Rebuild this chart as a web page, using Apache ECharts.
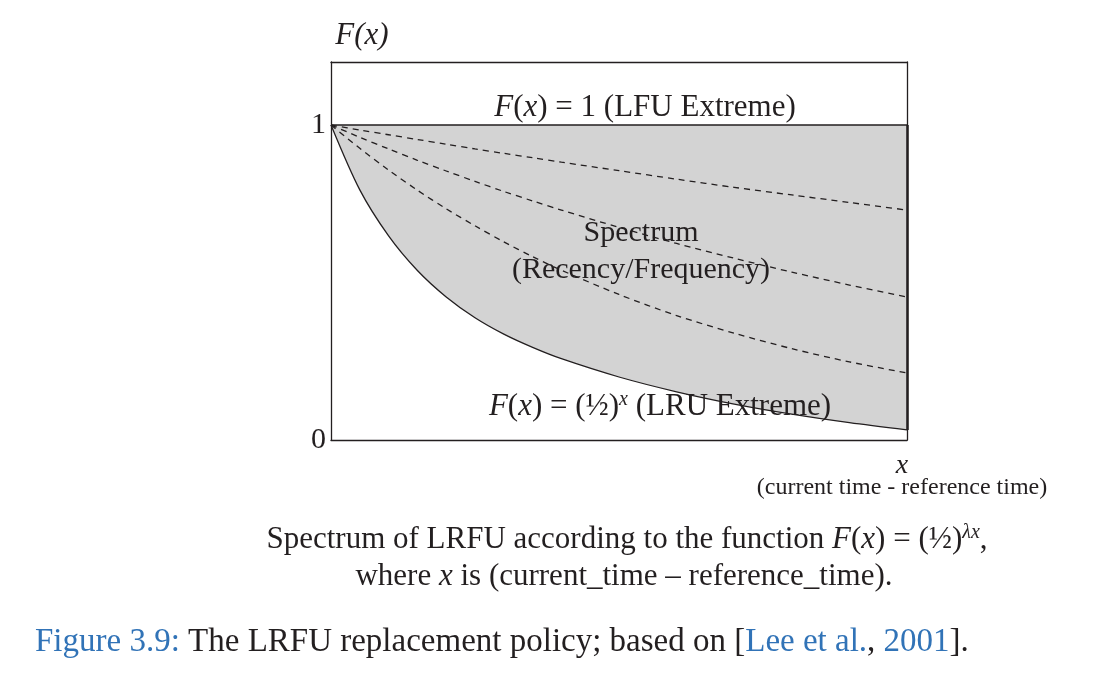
<!DOCTYPE html>
<html>
<head>
<meta charset="utf-8">
<script src="https://cdn.jsdelivr.net/npm/echarts@6/dist/echarts.min.js"></script>
<style>
  html, body { margin: 0; padding: 0; background: #fff; }
  #chart { width: 1103px; height: 682px; }
</style>
</head>
<body>
<div id="chart"></div>
<script>
// x = current time - reference time (arbitrary units)
var xPoints = [0, 0.25, 0.5, 0.75, 1, 1.25, 1.5, 1.75, 2, 2.5, 3, 3.5, 4, 4.5, 5];
// F(x) = 1 (LFU extreme)
var lfuValues = [1, 1, 1, 1, 1, 1, 1, 1, 1, 1, 1, 1, 1, 1, 1];
// F(x) = (1/2)^x (LRU extreme)
var lruValues = [1, 0.794, 0.648, 0.538, 0.454, 0.388, 0.336, 0.294, 0.258, 0.2, 0.153, 0.114, 0.082, 0.055, 0.032];
// dashed curves in between
var dash1Values = [1, 0.984, 0.969, 0.954, 0.939, 0.924, 0.91, 0.896, 0.882, 0.855, 0.828, 0.802, 0.778, 0.754, 0.73];
var dash2Values = [1, 0.961, 0.924, 0.888, 0.854, 0.821, 0.789, 0.759, 0.73, 0.675, 0.624, 0.577, 0.533, 0.492, 0.454];
var dash3Values = [1, 0.926, 0.857, 0.793, 0.734, 0.68, 0.629, 0.582, 0.539, 0.462, 0.395, 0.339, 0.29, 0.248, 0.213];
var yTickLabels = {0: '0', 1: '1'};

var ink = '#231f20';
var blue = '#3173b7';
var serif = '"Liberation Serif", "DejaVu Serif", serif';

function pairs(ys) {
    return xPoints.map(function (x, i) { return [x, ys[i]]; });
}

var myChart = echarts.init(document.getElementById('chart'));

function dashed(name, ys) {
    return {
        name: name,
        type: 'line',
        data: pairs(ys),
        smooth: 0.3,
        symbol: 'none',
        z: 5,
        lineStyle: { color: ink, width: 1.3, type: [6, 5] }
    };
}

// plain axis used only to draw a side of the box
function frameAxis(pos, extra) {
    var a = {
        type: 'value',
        position: pos,
        z: 10,
        axisLine: { show: true, onZero: false, lineStyle: { color: ink, width: 1.3 } },
        axisTick: { show: false },
        axisLabel: { show: false },
        splitLine: { show: false }
    };
    for (var k in extra) a[k] = extra[k];
    return a;
}

var rich = {
    i: { fontFamily: serif, fontStyle: 'italic', fontSize: 31, fill: ink },
    sup: { fontFamily: serif, fontStyle: 'italic', fontSize: 20, fill: ink, verticalAlign: 'top', padding: [0, 0, 14, 0] },
    b: { fontFamily: serif, fontSize: 33, fill: blue },
    k: { fontFamily: serif, fontSize: 33, fill: ink }
};

function label(x, y, text, size, extra) {
    var st = {
        text: text,
        x: x, y: y,
        align: 'center',
        verticalAlign: 'middle',
        fontFamily: serif,
        fontSize: size,
        fill: ink,
        rich: rich
    };
    if (extra) { for (var k in extra) st[k] = extra[k]; }
    return { type: 'text', z: 20, style: st };
}

var option = {
    backgroundColor: '#fff',
    animation: false,
    grid: { left: 331, top: 62, width: 576, height: 378 },
    xAxis: [
        frameAxis('bottom', { min: 0, max: 5 }),
        frameAxis('top', { min: 0, max: 5 })
    ],
    yAxis: [
        frameAxis('left', {
            min: 0, max: 1.2, interval: 1,
            axisLabel: {
                margin: 5,
                color: ink,
                fontFamily: serif,
                fontSize: 30,
                formatter: function (v) { return yTickLabels[v] || ''; }
            }
        }),
        frameAxis('right', { min: 0, max: 1.2 })
    ],
    series: [
        {
            name: 'LFU',
            type: 'line',
            data: pairs(lfuValues),
            symbol: 'none',
            z: 1,
            lineStyle: { color: ink, width: 1.3 },
            areaStyle: { color: '#d3d3d3', opacity: 1 }
        },
        {
            name: 'LRU',
            type: 'line',
            data: pairs(lruValues),
            smooth: 0.3,
            symbol: 'none',
            z: 3,
            lineStyle: { color: ink, width: 1.3 },
            areaStyle: { color: '#ffffff', opacity: 1 },
            markLine: {
                silent: true,
                symbol: 'none',
                label: { show: false },
                lineStyle: { color: ink, width: 2.5, type: 'solid' },
                data: [[{ coord: [5, lruValues[lruValues.length - 1]] }, { coord: [5, 1] }]]
            }
        },
        dashed('d1', dash1Values),
        dashed('d2', dash2Values),
        dashed('d3', dash3Values)
    ],
    graphic: [
        label(362, 36, 'F(x)', 31, { fontStyle: 'italic' }),
        label(645, 108, '{i|F}({i|x}) = 1 (LFU Extreme)', 31),
        label(641, 233, 'Spectrum', 30),
        label(641, 270, '(Recency/Frequency)', 30),
        label(660, 407, '{i|F}({i|x}) = (½){sup|x} (LRU Extreme)', 31),
        label(902, 466, 'x', 28, { fontStyle: 'italic' }),
        label(902, 488, '(current time - reference time)', 24),
        label(627, 540, 'Spectrum of LRFU according to the function {i|F}({i|x}) = (½){sup|λx},', 31),
        label(624, 577, 'where {i|x} is (current_time – reference_time).', 31),
        label(35, 642, '{b|Figure 3.9:} {k|The LRFU replacement policy; based on [}{b|Lee et al.}{k|, }{b|2001}{k|].}', 33, { align: 'left' })
    ]
};

myChart.setOption(option);
</script>
</body>
</html>
